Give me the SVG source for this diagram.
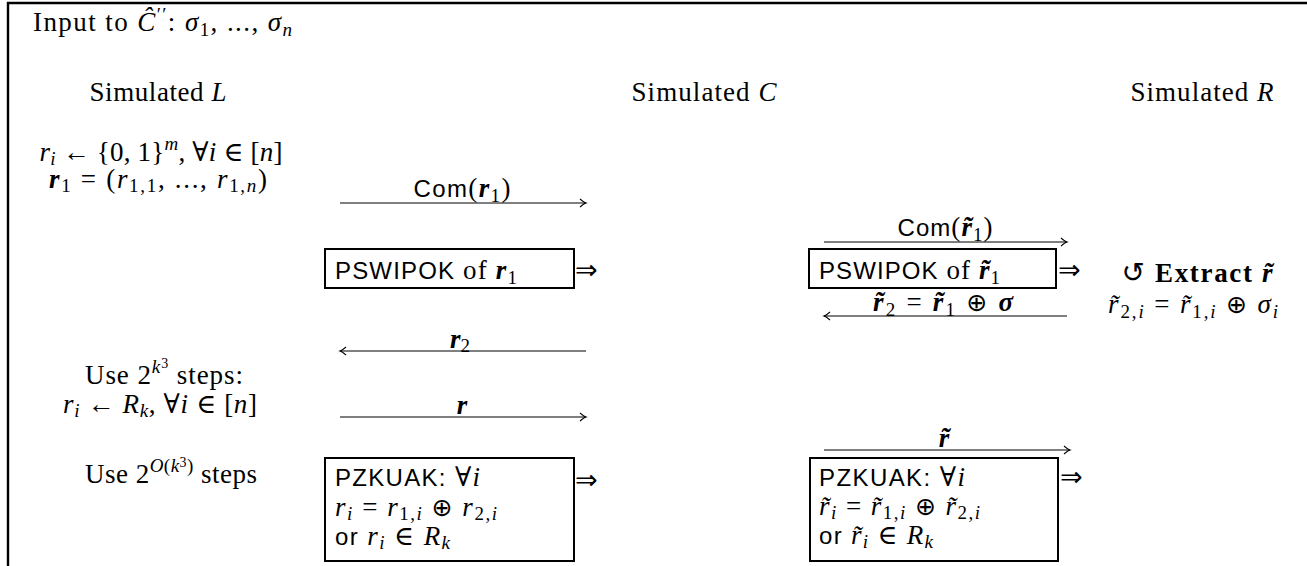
<svg xmlns="http://www.w3.org/2000/svg" width="1307" height="566" viewBox="0 0 1307 566">
<style>
text{font-family:"Liberation Serif","DejaVu Serif",serif;font-size:27px;fill:#000}
.i{font-style:italic}
.bi{font-style:italic;font-weight:bold}
.b{font-weight:bold}
.s{font-size:19px}
.ss{font-size:14px}
.sans{font-family:"Liberation Sans","DejaVu Sans",sans-serif;font-size:24px}
.sym{font-family:"DejaVu Sans",sans-serif;font-size:28px;font-weight:normal}
.impl{font-family:"DejaVu Sans",sans-serif;font-size:27px}
.op{font-family:"DejaVu Sans",sans-serif;font-size:25px;font-weight:normal;font-style:normal}
.box{fill:none;stroke:#000;stroke-width:2}
.arr{stroke:#000;stroke-width:1.1;fill:none}
.frame{stroke:#000;stroke-width:2.4;fill:none}
</style>
<defs>
<marker id="ah" markerUnits="userSpaceOnUse" markerWidth="12" markerHeight="12" viewBox="-8 -6 10 12" refX="0" refY="0" orient="auto-start-reverse">
<path d="M-6,-4 Q-2,-0.6 0,0 Q-2,0.6 -6,4" stroke="#000" stroke-width="1.1" fill="none"/>
</marker>
</defs>
<rect width="1307" height="566" fill="#fff"/>
<path class="frame" d="M8,566 V3 H1307"/>

<g id="title">
<text x="33" y="31" textLength="259">Input to <tspan class="i">Ĉ</tspan><tspan class="s" dy="-10">′′</tspan><tspan dy="10">: </tspan><tspan class="i">σ</tspan><tspan class="s" dy="5">1</tspan><tspan dy="-5">, ..., </tspan><tspan class="i">σ</tspan><tspan class="i s" dy="5">n</tspan></text>
</g>

<g id="heading-L"><text x="158" y="101" text-anchor="middle" textLength="137">Simulated <tspan class="i">L</tspan></text></g>
<g id="heading-C"><text x="704" y="101" text-anchor="middle" textLength="145">Simulated <tspan class="i">C</tspan></text></g>
<g id="heading-R"><text x="1202" y="101" text-anchor="middle" textLength="143">Simulated <tspan class="i">R</tspan></text></g>

<g id="L-init">
<text x="161" y="161" text-anchor="middle" textLength="243"><tspan class="i">r</tspan><tspan class="i s" dy="4">i</tspan><tspan dy="-4"> ← {0, 1}</tspan><tspan class="i s" dy="-11">m</tspan><tspan dy="11">, ∀</tspan><tspan class="i">i</tspan> ∈ [<tspan class="i">n</tspan>]</text>
<text x="158" y="188" text-anchor="middle" textLength="218"><tspan class="bi">r</tspan><tspan class="s" dy="4">1</tspan><tspan dy="-4"> = (</tspan><tspan class="i">r</tspan><tspan class="s" dy="4">1,1</tspan><tspan dy="-4">, ..., </tspan><tspan class="i">r</tspan><tspan class="s" dy="4">1,</tspan><tspan class="i s">n</tspan><tspan dy="-4">)</tspan></text>
</g>

<g id="L-steps">
<text x="164" y="384" text-anchor="middle" textLength="158">Use 2<tspan class="i s" dy="-11">k</tspan><tspan class="ss" dy="-5">3</tspan><tspan dy="16"> steps:</tspan></text>
<text x="160" y="413" text-anchor="middle" textLength="194"><tspan class="i">r</tspan><tspan class="i s" dy="4">i</tspan><tspan dy="-4"> ← </tspan><tspan class="i">R</tspan><tspan class="i s" dy="4">k</tspan><tspan dy="-4">, ∀</tspan><tspan class="i">i</tspan> ∈ [<tspan class="i">n</tspan>]</text>
</g>

<g id="L-steps2">
<text x="171" y="483" text-anchor="middle" textLength="172">Use 2<tspan class="s" dy="-11"><tspan class="i">O</tspan>(<tspan class="i">k</tspan></tspan><tspan class="ss" dy="-5">3</tspan><tspan class="s" dy="5">)</tspan><tspan dy="11"> steps</tspan></text>
</g>

<g id="C-pswipok">
<rect class="box" x="325" y="249" width="249" height="39"/>
<text x="335" y="279" textLength="182"><tspan class="sans">PSWIPOK</tspan> of <tspan class="bi">r</tspan><tspan class="s" dy="5">1</tspan></text>
<text x="575" y="279" class="impl">⇒</text>
</g>

<g id="C-pzkuak">
<rect class="box" x="325" y="458" width="249" height="103"/>
<text x="335" y="486" textLength="145"><tspan class="sans">PZKUAK:</tspan> ∀<tspan class="i">i</tspan></text>
<text x="335" y="516" textLength="162"><tspan class="i">r</tspan><tspan class="i s" dy="4">i</tspan><tspan dy="-4"> = </tspan><tspan class="i">r</tspan><tspan class="s" dy="4">1,</tspan><tspan class="i s">i</tspan><tspan dy="-4"> </tspan><tspan class="op">⊕</tspan> <tspan class="i">r</tspan><tspan class="s" dy="4">2,</tspan><tspan class="i s">i</tspan></text>
<text x="335" y="545" textLength="115"><tspan class="sans">or</tspan> <tspan class="i">r</tspan><tspan class="i s" dy="4">i</tspan><tspan dy="-4"> ∈ </tspan><tspan class="i">R</tspan><tspan class="i s" dy="4">k</tspan></text>
<text x="575" y="489" class="impl">⇒</text>
</g>

<g id="R-pswipok">
<rect class="box" x="809" y="249" width="247" height="39"/>
<text x="819" y="279" textLength="181"><tspan class="sans">PSWIPOK</tspan> of <tspan class="bi">r̃</tspan><tspan class="s" dy="5">1</tspan></text>
<text x="1058" y="279" class="impl">⇒</text>
</g>

<g id="R-extract">
<text x="1197" y="282" text-anchor="middle" textLength="151"><tspan class="sym">↺</tspan> <tspan class="b">Extract</tspan> <tspan class="bi">r̃</tspan></text>
<text x="1193" y="313" text-anchor="middle" textLength="170"><tspan class="i">r̃</tspan><tspan class="s" dy="5">2,</tspan><tspan class="i s">i</tspan><tspan dy="-5"> = </tspan><tspan class="i">r̃</tspan><tspan class="s" dy="5">1,</tspan><tspan class="i s">i</tspan><tspan dy="-5"> </tspan><tspan class="op">⊕</tspan> <tspan class="i">σ</tspan><tspan class="i s" dy="5">i</tspan></text>
</g>

<g id="R-pzkuak">
<rect class="box" x="810" y="458" width="248" height="103"/>
<text x="819" y="486" textLength="146"><tspan class="sans">PZKUAK:</tspan> ∀<tspan class="i">i</tspan></text>
<text x="819" y="515" textLength="161"><tspan class="i">r̃</tspan><tspan class="i s" dy="4">i</tspan><tspan dy="-4"> = </tspan><tspan class="i">r̃</tspan><tspan class="s" dy="4">1,</tspan><tspan class="i s">i</tspan><tspan dy="-4"> </tspan><tspan class="op">⊕</tspan> <tspan class="i">r̃</tspan><tspan class="s" dy="4">2,</tspan><tspan class="i s">i</tspan></text>
<text x="819" y="544" textLength="114"><tspan class="sans">or</tspan> <tspan class="i">r̃</tspan><tspan class="i s" dy="4">i</tspan><tspan dy="-4"> ∈ </tspan><tspan class="i">R</tspan><tspan class="i s" dy="4">k</tspan></text>
<text x="1060" y="486" class="impl">⇒</text>
</g>

<g id="connectors">
<line class="arr" x1="340" y1="203" x2="586" y2="203" marker-end="url(#ah)"/>
<text x="462" y="197" text-anchor="middle" textLength="97"><tspan class="sans">Com</tspan>(<tspan class="bi">r</tspan><tspan class="s" dy="5">1</tspan><tspan dy="-5">)</tspan></text>

<line class="arr" x1="340" y1="351" x2="586" y2="351" marker-start="url(#ah)"/>
<text x="460" y="348" text-anchor="middle"><tspan class="bi">r</tspan><tspan class="s" dy="4">2</tspan></text>

<line class="arr" x1="340" y1="417" x2="586" y2="417" marker-end="url(#ah)"/>
<text x="462" y="414" text-anchor="middle" class="bi">r</text>

<line class="arr" x1="824" y1="242" x2="1067" y2="242" marker-end="url(#ah)"/>
<text x="945" y="236" text-anchor="middle" textLength="95"><tspan class="sans">Com</tspan>(<tspan class="bi">r̃</tspan><tspan class="s" dy="5">1</tspan><tspan dy="-5">)</tspan></text>

<line class="arr" x1="824" y1="316" x2="1067" y2="316" marker-start="url(#ah)"/>
<text x="943" y="311" text-anchor="middle" textLength="140"><tspan class="bi">r̃</tspan><tspan class="s" dy="5">2</tspan><tspan dy="-5"> = </tspan><tspan class="bi">r̃</tspan><tspan class="s" dy="5">1</tspan><tspan dy="-5"> </tspan><tspan class="op">⊕</tspan> <tspan class="bi">σ</tspan></text>

<line class="arr" x1="824" y1="450" x2="1070" y2="450" marker-end="url(#ah)"/>
<text x="944" y="447" text-anchor="middle" class="bi">r̃</text>
</g>
</svg>
